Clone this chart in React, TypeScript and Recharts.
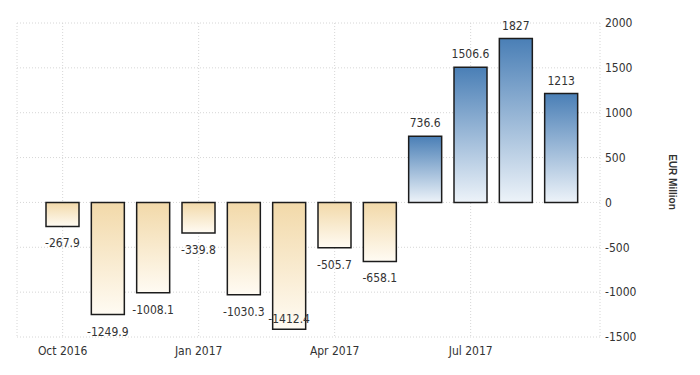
import React from 'react';
import { BarChart, Bar, XAxis, YAxis, CartesianGrid, Cell, LabelList } from 'recharts';

const months = [
  'Oct 2016', 'Nov 2016', 'Dec 2016', 'Jan 2017', 'Feb 2017', 'Mar 2017',
  'Apr 2017', 'May 2017', 'Jun 2017', 'Jul 2017', 'Aug 2017', 'Sep 2017',
];
const balance = [-267.9, -1249.9, -1008.1, -339.8, -1030.3, -1412.4, -505.7, -658.1, 736.6, 1506.6, 1827, 1213];
const xTicks = ['Oct 2016', 'Jan 2017', 'Apr 2017', 'Jul 2017'];
const yTicks = [-1500, -1000, -500, 0, 500, 1000, 1500, 2000];

const chartData = months.map((m, i) => ({ month: m, value: balance[i] }));

const FONT = "'DejaVu Sans Condensed', 'DejaVu Sans', sans-serif";
const PLOT_BOTTOM = 337;

const renderLabel = (props: any) => {
  const { x, y, width, height, value } = props;
  const top = Math.min(y, y + height);
  const bottom = Math.max(y, y + height);
  const cx = x + width / 2;
  let ty: number;
  if (value >= 0) {
    ty = top - 13;
  } else {
    ty = bottom + 17 > PLOT_BOTTOM ? bottom - 10 : bottom + 17;
  }
  return (
    <text
      x={cx}
      y={ty}
      textAnchor="middle"
      dominantBaseline="central"
      fill="#333"
      fontSize={12}
      fontFamily={FONT}
      style={{ fontStretch: 'condensed' }}
    >
      {value}
    </text>
  );
};

const App = () => {
  return (
    <div style={{ position: 'absolute', left: 0, top: 0, width: 700, height: 375, background: '#fff' }}>
      <BarChart
        width={700}
        height={375}
        data={chartData}
        margin={{ top: 23, right: 40, left: 17, bottom: 8 }}
        barSize={33}
      >
        <defs>
          <linearGradient id="posGrad" x1="0" y1="0" x2="0" y2="1">
            <stop offset="0%" stopColor="#4a7fb6" />
            <stop offset="100%" stopColor="#edf3f9" />
          </linearGradient>
          <linearGradient id="negGrad" x1="0" y1="0" x2="0" y2="1">
            <stop offset="0%" stopColor="#f2d9a9" />
            <stop offset="100%" stopColor="#fffbf3" />
          </linearGradient>
        </defs>
        <CartesianGrid stroke="#d6d6d6" strokeDasharray="1 2" />
        <XAxis
          dataKey="month"
          ticks={xTicks}
          interval={0}
          axisLine={false}
          tickLine={false}
          tickSize={0}
          tickMargin={9}
          height={30}
          padding={{ left: 23, right: 16 }}
          tick={{ fill: '#333', fontSize: 12, fontFamily: FONT, style: { fontStretch: 'condensed' } }}
        />
        <YAxis
          orientation="right"
          domain={[-1500, 2000]}
          ticks={yTicks}
          interval={0}
          axisLine={false}
          tickLine={false}
          tickSize={0}
          tickMargin={5}
          width={60}
          tick={{ fill: '#333', fontSize: 12, fontFamily: FONT, textAnchor: 'start', style: { fontStretch: 'condensed' } }}
        />
        <Bar dataKey="value" isAnimationActive={false} stroke="#1c1c1c" strokeWidth={1.5}>
          {chartData.map((d, i) => (
            <Cell key={`cell-${i}`} fill={d.value >= 0 ? 'url(#posGrad)' : 'url(#negGrad)'} />
          ))}
          <LabelList dataKey="value" content={renderLabel} />
        </Bar>
      </BarChart>
      <div
        style={{
          position: 'absolute',
          left: 672,
          top: 182,
          transform: 'translate(-50%, -50%) rotate(90deg)',
          whiteSpace: 'nowrap',
          fontFamily: "'Liberation Sans', Arial, sans-serif",
          fontSize: 10,
          fontWeight: 'bold',
          color: '#333',
        }}
      >
        EUR Million
      </div>
    </div>
  );
};

export default App;
